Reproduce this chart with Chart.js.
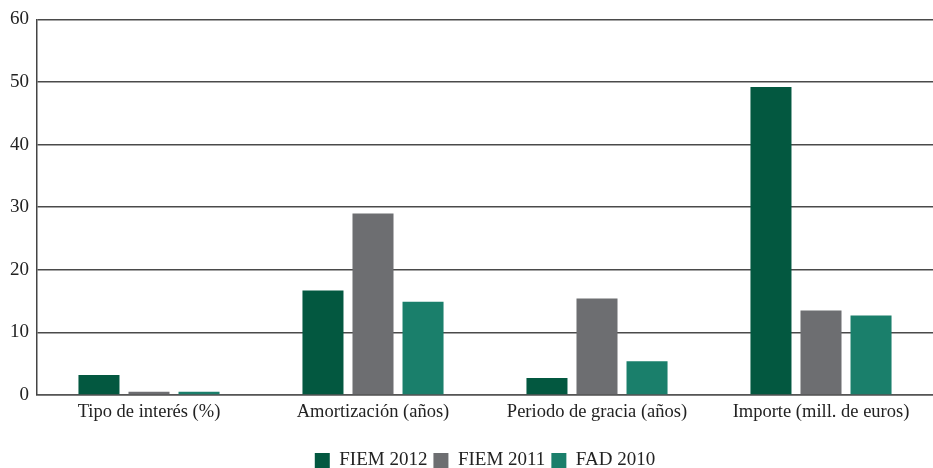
<!DOCTYPE html>
<html>
<head>
<meta charset="utf-8">
<script src="https://cdn.jsdelivr.net/npm/chart.js@4"></script>
<style>
  html, body { margin: 0; padding: 0; background: #fff; }
  #wrap { width: 933px; height: 468px; }
</style>
</head>
<body>
<div id="wrap"><canvas id="grafico"></canvas></div>
<script>
const categorias = ['Tipo de interés (%)', 'Amortización (años)', 'Periodo de gracia (años)', 'Importe (mill. de euros)'];
const fiem2012 = [3.2, 16.7, 2.7, 49.2];
const fiem2011 = [0.5, 29, 15.4, 13.5];
const fad2010 = [0.5, 14.9, 5.4, 12.7];
const ticksY = [0, 10, 20, 30, 40, 50, 60];

const fuente = "'Liberation Serif', 'DejaVu Serif', serif";

new Chart(document.getElementById('grafico'), {
    type: 'bar',
    data: {
        labels: categorias,
        datasets: [
            { label: 'FIEM 2012', data: fiem2012, backgroundColor: '#035840' },
            { label: 'FIEM 2011', data: fiem2011, backgroundColor: '#6d6e71' },
            { label: 'FAD 2010', data: fad2010, backgroundColor: '#1a7f6b' }
        ]
    },
    options: {
        responsive: true,
        maintainAspectRatio: false,
        animation: false,
        datasets: { bar: { categoryPercentage: 0.67, barPercentage: 0.82 } },
        layout: { padding: { top: 6, right: 0, left: 0, bottom: -12 } },
        plugins: {
            tooltip: { enabled: false },
            legend: {
                position: 'bottom',
                fullSize: false,
                labels: {
                    boxWidth: 15,
                    boxHeight: 15,
                    padding: 6,
                    color: '#222',
                    font: { family: fuente, size: 19 }
                }
            }
        },
        scales: {
            x: {
                grid: { display: false },
                border: { display: true, color: '#555', width: 1.5 },
                ticks: { color: '#222', padding: -2, font: { family: fuente, size: 18.5 } },
                afterFit: s => { s.height = 50; }
            },
            y: {
                min: 0,
                max: 60,
                afterBuildTicks: s => { s.ticks = ticksY.map(v => ({ value: v })); },
                afterFit: s => { s.width = 37; },
                grid: { color: '#4a4a4a', lineWidth: 1.5, drawTicks: false },
                border: { display: true, color: '#444', width: 1.5 },
                ticks: { color: '#222', padding: 8, font: { family: fuente, size: 19 } }
            }
        }
    }
});
</script>
</body>
</html>
